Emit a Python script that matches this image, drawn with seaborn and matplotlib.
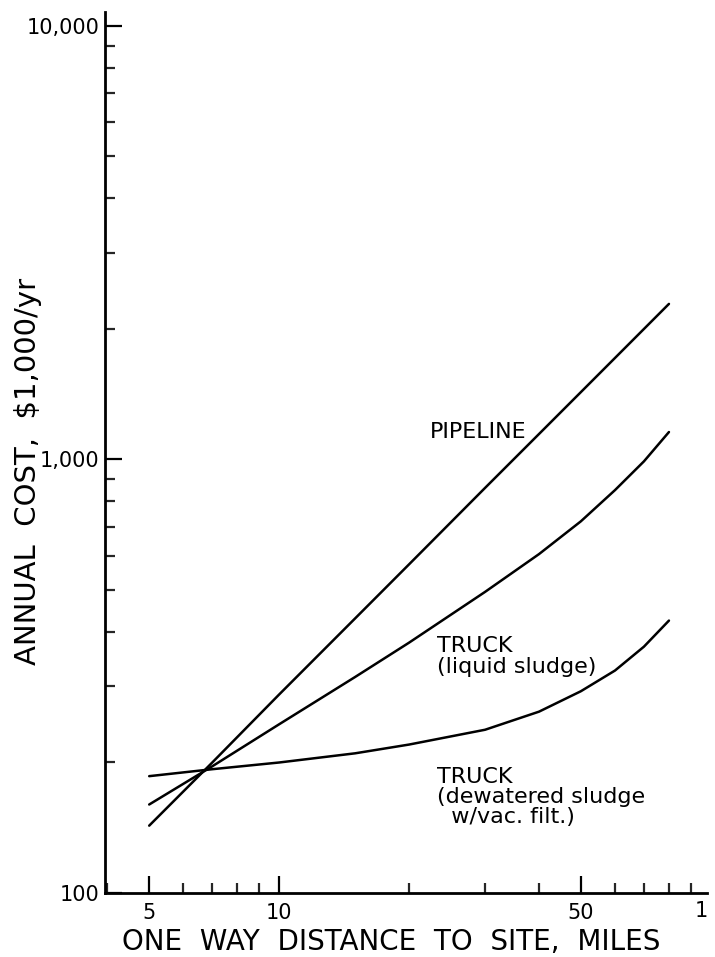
import numpy as np
import pandas as pd
import matplotlib
matplotlib.use("Agg")
import matplotlib.pyplot as plt
import seaborn as sns
from matplotlib.ticker import FixedLocator, LogLocator, NullFormatter

# ---- data ----
distance = [5, 7, 10, 15, 20, 30, 40, 50, 60, 70, 80]
pipeline = [143, 200, 287, 430, 573, 860, 1145, 1430, 1715, 2000, 2285]
truck_liquid = [160, 196, 245, 315, 378, 495, 605, 720, 850, 990, 1157]
truck_dewatered = [186, 193, 200, 210, 220, 238, 262, 292, 326, 370, 425]

x_ticks = [5, 10, 50]
x_ticklabels = ["5", "10", "50"]
y_ticks = [100, 1000, 10000]
y_ticklabels = ["100", "1,000", "10,000"]

df = pd.concat([
    pd.DataFrame({"distance": distance, "cost": pipeline, "series": "pipeline"}),
    pd.DataFrame({"distance": distance, "cost": truck_liquid, "series": "liquid"}),
    pd.DataFrame({"distance": distance, "cost": truck_dewatered, "series": "dewatered"}),
])

sns.set_style("ticks")
plt.rcParams["font.family"] = ["DejaVu Sans"]
plt.rcParams["text.color"] = "black"
plt.rcParams["axes.labelcolor"] = "black"

fig = plt.figure(figsize=(7.15, 9.57), dpi=100)
ax = fig.add_axes([105 / 715, 64 / 957, 602 / 715, 881 / 957])

sns.lineplot(data=df, x="distance", y="cost", hue="series",
             palette=["black", "black", "black"], estimator=None, sort=False,
             linewidth=1.8, legend=False, ax=ax)

ax.set_xscale("log")
ax.set_yscale("log")
ax.set_xlim(3.95, 98)
ax.set_ylim(100, 10770)

for s in ["top", "right"]:
    ax.spines[s].set_visible(False)
for s in ["left", "bottom"]:
    ax.spines[s].set_linewidth(2.0)
    ax.spines[s].set_color("black")

ax.xaxis.set_major_locator(FixedLocator(x_ticks))
ax.set_xticklabels(x_ticklabels)
ax.xaxis.set_minor_locator(LogLocator(base=10, subs=np.arange(2, 10), numticks=20))
ax.xaxis.set_minor_formatter(NullFormatter())
ax.yaxis.set_major_locator(FixedLocator(y_ticks))
ax.set_yticklabels(y_ticklabels)
ax.yaxis.set_minor_locator(LogLocator(base=10, subs=np.arange(2, 10), numticks=20))
ax.yaxis.set_minor_formatter(NullFormatter())

ax.tick_params(axis="both", which="major", direction="in", length=12, width=1.6,
               labelsize=15, colors="black")
ax.tick_params(axis="both", which="minor", direction="in", length=7, width=1.6)
ax.tick_params(axis="x", which="major", pad=7)
ax.tick_params(axis="y", which="major", pad=4)

ax.text(95.3, -0.0095, "1", transform=ax.get_xaxis_transform(), ha="center",
        va="top", fontsize=15, clip_on=False)

ax.set_xlabel("ONE  WAY  DISTANCE  TO  SITE,  MILES", fontsize=20)
ax.xaxis.set_label_coords(0.475, -0.040)
ax.set_ylabel(r"ANNUAL  COST,  \$1,000/yr", fontsize=21)
ax.yaxis.set_label_coords(-0.105, 0.478)

fs = 16
ax.text(22.4, 1157, "PIPELINE", fontsize=fs, ha="left", va="center")
ax.text(23.2, 351, "TRUCK\n(liquid sludge)", fontsize=fs, ha="left",
        va="center", linespacing=1.05)
ax.text(23.2, 166.5, "TRUCK\n(dewatered sludge\n  w/vac. filt.)", fontsize=fs,
        ha="left", va="center", linespacing=1.0)

fig.savefig("out.png", dpi=100)
